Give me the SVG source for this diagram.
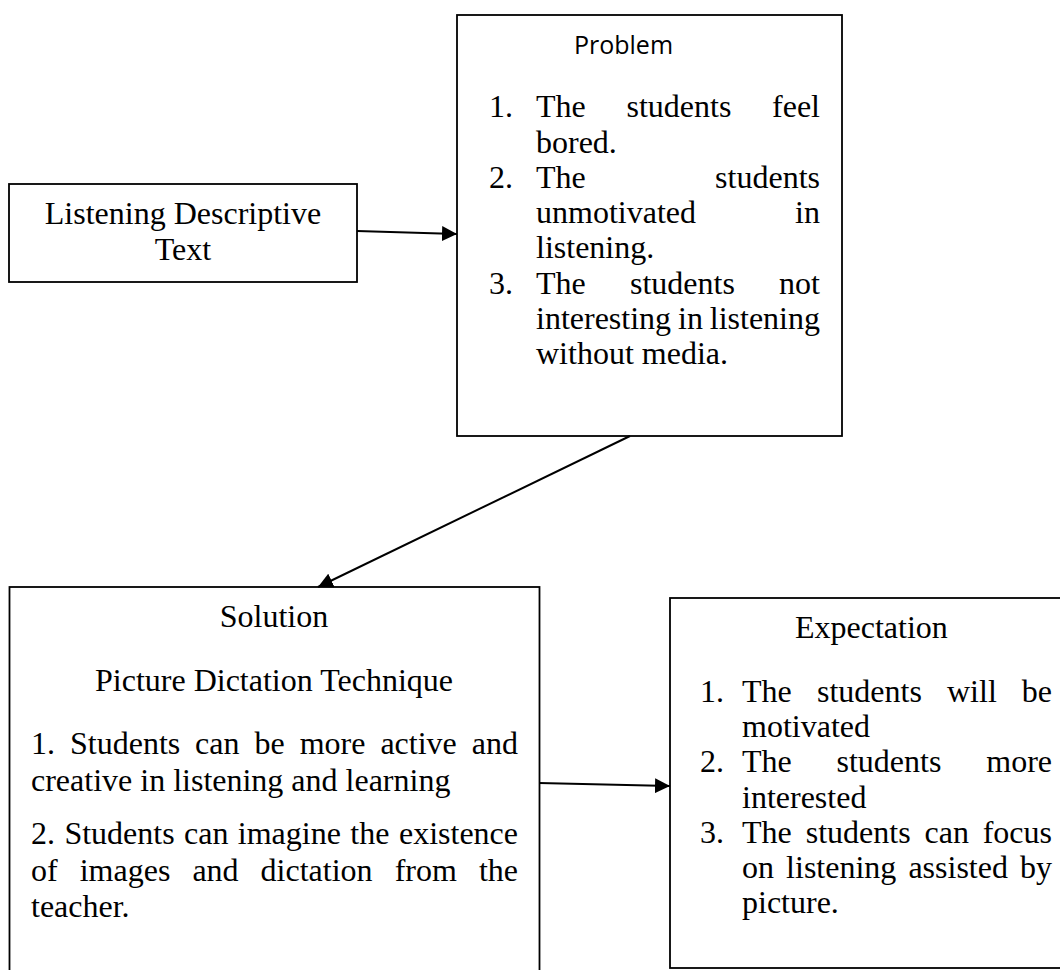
<svg xmlns="http://www.w3.org/2000/svg" width="1060" height="970" viewBox="0 0 1060 970">
  <style>
    .box { fill: #ffffff; stroke: #000000; stroke-width: 1.8; }
    .t { font-family: "Liberation Serif", "Times New Roman", serif; font-size: 32px; fill: #000000; }
    .s { font-family: "Open Sans", "Noto Sans", "Liberation Sans", sans-serif; font-size: 25px; fill: #000000; }
    .mid { text-anchor: middle; }
    .end { text-anchor: end; }
    .conn { stroke: #000000; stroke-width: 2; fill: none; marker-end: url(#arrow); }
  </style>
  <defs>
    <marker id="arrow" markerUnits="userSpaceOnUse" markerWidth="15" markerHeight="15" refX="15" refY="7.5" orient="auto">
      <path d="M0,0 L15,7.5 L0,15 z" fill="#000000"/>
    </marker>
  </defs>
  <rect width="1060" height="970" fill="#ffffff"/>

  <g id="node-listening">
    <rect class="box" x="9" y="184" width="348" height="98"/>
    <text class="t mid" x="183" y="224">Listening Descriptive</text>
    <text class="t mid" x="183" y="260">Text</text>
  </g>

  <g id="node-problem">
    <rect class="box" x="457" y="15" width="385" height="421"/>
    <text class="s mid" x="623.5" y="54">Problem</text>
    <text class="t" y="117"><tspan x="489">1.</tspan><tspan x="536">The</tspan><tspan x="626.5">students</tspan></text>
    <text class="t end" x="820" y="117">feel</text>
    <text class="t" x="536" y="153">bored.</text>
    <text class="t" y="188"><tspan x="489">2.</tspan><tspan x="536">The</tspan></text>
    <text class="t end" x="820" y="188">students</text>
    <text class="t" x="536" y="223">unmotivated</text>
    <text class="t end" x="820" y="223">in</text>
    <text class="t" x="536" y="258">listening.</text>
    <text class="t" y="294"><tspan x="489">3.</tspan><tspan x="536">The</tspan><tspan x="630">students</tspan></text>
    <text class="t end" x="820" y="294">not</text>
    <text class="t" y="329"><tspan x="536">interesting</tspan><tspan x="678">in</tspan></text>
    <text class="t end" x="820" y="329">listening</text>
    <text class="t" x="536" y="364">without media.</text>
  </g>

  <g id="node-solution">
    <rect class="box" x="9.5" y="587" width="530" height="400"/>
    <text class="t mid" x="274" y="627">Solution</text>
    <text class="t mid" x="274" y="691">Picture Dictation Technique</text>
    <text class="t" y="754"><tspan x="31">1.</tspan><tspan x="70">Students</tspan><tspan x="195">can</tspan><tspan x="254.5">be</tspan><tspan x="299.7">more</tspan><tspan x="380.4">active</tspan></text>
    <text class="t end" x="518" y="754">and</text>
    <text class="t" x="31" y="791">creative in listening and learning</text>
    <text class="t" y="844"><tspan x="31">2.</tspan><tspan x="64.4">Students</tspan><tspan x="184">can</tspan><tspan x="237.8">imagine</tspan><tspan x="350.3">the</tspan></text>
    <text class="t end" x="518" y="844">existence</text>
    <text class="t" y="881"><tspan x="31">of</tspan><tspan x="79.7">images</tspan><tspan x="192.4">and</tspan><tspan x="260.6">dictation</tspan><tspan x="394.7">from</tspan></text>
    <text class="t end" x="518" y="881">the</text>
    <text class="t" x="31" y="917">teacher.</text>
  </g>

  <g id="node-expectation">
    <rect class="box" x="670" y="598" width="400" height="370"/>
    <text class="t" x="795" y="638">Expectation</text>
    <text class="t" y="702"><tspan x="700">1.</tspan><tspan x="742">The</tspan><tspan x="817">students</tspan><tspan x="947">will</tspan></text>
    <text class="t end" x="1052" y="702">be</text>
    <text class="t" x="742" y="737">motivated</text>
    <text class="t" y="772"><tspan x="700">2.</tspan><tspan x="742">The</tspan><tspan x="836.5">students</tspan></text>
    <text class="t end" x="1052" y="772">more</text>
    <text class="t" x="742" y="808">interested</text>
    <text class="t" y="843"><tspan x="700">3.</tspan><tspan x="742">The</tspan><tspan x="805.7">students</tspan><tspan x="924.5">can</tspan></text>
    <text class="t end" x="1052" y="843">focus</text>
    <text class="t" y="878"><tspan x="742">on</tspan><tspan x="786.1">listening</tspan><tspan x="908.4">assisted</tspan></text>
    <text class="t end" x="1052" y="878">by</text>
    <text class="t" x="742" y="913">picture.</text>
  </g>

  <g id="connectors">
    <line class="conn" x1="357" y1="231" x2="457" y2="234"/>
    <line class="conn" x1="630" y1="436" x2="318" y2="587"/>
    <line class="conn" x1="539" y1="783" x2="670" y2="786"/>
  </g>
</svg>
